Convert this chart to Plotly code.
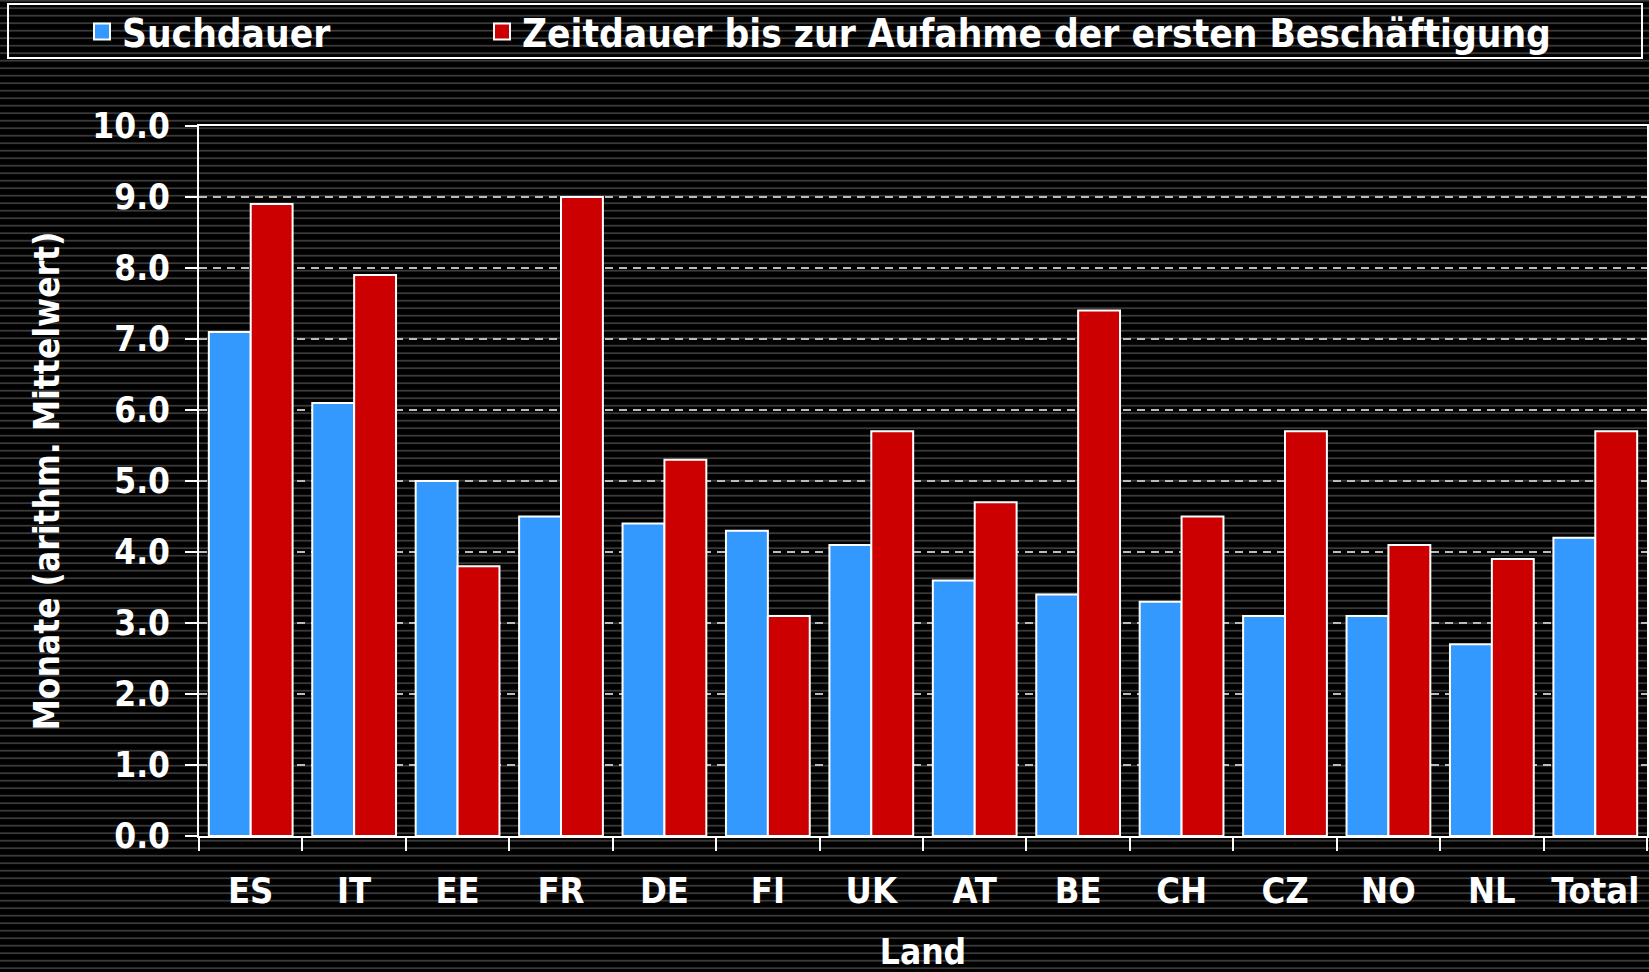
import base64
import plotly.graph_objects as go

laender = ["ES", "IT", "EE", "FR", "DE", "FI", "UK", "AT", "BE", "CH", "CZ", "NO", "NL", "Total"]
suchdauer = [7.1, 6.1, 5.0, 4.5, 4.4, 4.3, 4.1, 3.6, 3.4, 3.3, 3.1, 3.1, 2.7, 4.2]
zeitdauer = [8.9, 7.9, 3.8, 9.0, 5.3, 3.1, 5.7, 4.7, 7.4, 4.5, 5.7, 4.1, 3.9, 5.7]
y_ticks = [0, 1, 2, 3, 4, 5, 6, 7, 8, 9, 10]
series_names = ["Suchdauer", "Zeitdauer bis zur Aufahme der ersten Beschäftigung"]

W, H = 1649, 972
ML, MR, MT, MB = 199, 2, 126, 136
PW, PH = W - ML - MR, H - MT - MB

FONT = "DejaVu Sans Condensed, DejaVu Sans, sans-serif"
BLUE = "#3399ff"
RED = "#cc0000"

# striped background as an SVG image
rects = []
y = 0.7
while y < H:
    rects.append(f'<rect x="0" y="{y - 0.9:.2f}" width="{W}" height="1.8" fill="#3a3a3a"/>')
    y += 7.5
svg = (f'<svg xmlns="http://www.w3.org/2000/svg" width="{W}" height="{H}" viewBox="0 0 {W} {H}">'
       f'<rect width="{W}" height="{H}" fill="#000000"/>' + "".join(rects) + "</svg>")
src = "data:image/svg+xml;base64," + base64.b64encode(svg.encode()).decode()


def px_x(p):
    return (p - ML) / PW


def px_y(p):
    return (H - MB - p) / PH


fig = go.Figure()
fig.add_trace(go.Bar(x=laender, y=suchdauer, name=series_names[0], marker_color=BLUE,
                     marker_line_color="white", marker_line_width=2,
                     showlegend=False, legendgroup="a"))
fig.add_trace(go.Bar(x=laender, y=zeitdauer, name=series_names[1],
                     marker_color=RED, marker_line_color="white", marker_line_width=2,
                     showlegend=False, legendgroup="b"))
# legend entries with larger square symbols
fig.add_trace(go.Scatter(x=[None], y=[None], mode="markers", name=series_names[0], legendgroup="a",
                         legend="legend",
                         marker=dict(symbol="square", size=16, color=BLUE, line=dict(color="white", width=2))))
fig.add_trace(go.Scatter(x=[None], y=[None], mode="markers", name=series_names[1], legendgroup="b",
                         legend="legend2",
                         marker=dict(symbol="square", size=16, color=RED, line=dict(color="white", width=2))))

legend_common = dict(orientation="h", xanchor="left", yanchor="top",
                     bgcolor="rgba(0,0,0,0)", borderwidth=0, itemsizing="trace",
                     font=dict(family=FONT, size=38.5, color="white", weight="bold"))

fig.update_layout(
    width=W, height=H,
    margin=dict(l=ML, r=MR, t=MT, b=MB, autoexpand=False),
    paper_bgcolor="black",
    plot_bgcolor="rgba(0,0,0,0)",
    font=dict(family=FONT, color="white", size=36, weight="bold"),
    barmode="group", bargap=0.19, bargroupgap=0,
    legend=dict(x=px_x(82), y=px_y(0), **legend_common),
    legend2=dict(x=px_x(482), y=px_y(0), **legend_common),
    xaxis=dict(
        type="category", showline=True, linecolor="white", linewidth=2, mirror=True,
        ticks="outside", tickson="boundaries", ticklen=13, tickwidth=2, tickcolor="white",
        showgrid=False, ticklabelstandoff=22,
        tickfont=dict(family=FONT, size=36, color="white", weight="bold"),
        title=dict(text="Land", standoff=32,
                   font=dict(family=FONT, size=35, color="white", weight="bold")),
        range=[-0.5, len(laender) - 0.5],
    ),
    yaxis=dict(
        range=[0, 10], tickvals=y_ticks, tickformat=".1f",
        showline=True, linecolor="white", linewidth=2, mirror=True,
        ticks="outside", ticklen=12, tickwidth=2, tickcolor="white",
        showgrid=True, gridcolor="#bbbbbb", gridwidth=1.5, griddash="8px,6px",
        zeroline=False, ticklabelstandoff=8,
        tickfont=dict(family=FONT, size=35, color="white", weight="bold"),
        title=dict(text="Monate (arithm. Mittelwert)", standoff=22,
                   font=dict(family=FONT, size=35, color="white", weight="bold")),
    ),
    images=[dict(source=src, xref="paper", yref="paper", x=px_x(0), y=px_y(0),
                 sizex=W / PW, sizey=H / PH, xanchor="left", yanchor="top",
                 sizing="stretch", layer="below")],
    shapes=[dict(type="rect", xref="paper", yref="paper", x0=px_x(8), x1=px_x(1642),
                 y0=px_y(4), y1=px_y(58), line=dict(color="white", width=2),
                 fillcolor="rgba(0,0,0,0)", layer="above")],
)

fig.write_html("out.html", config={"displayModeBar": False},
               post_script="document.body.style.margin='0';document.body.style.overflow='hidden';")
